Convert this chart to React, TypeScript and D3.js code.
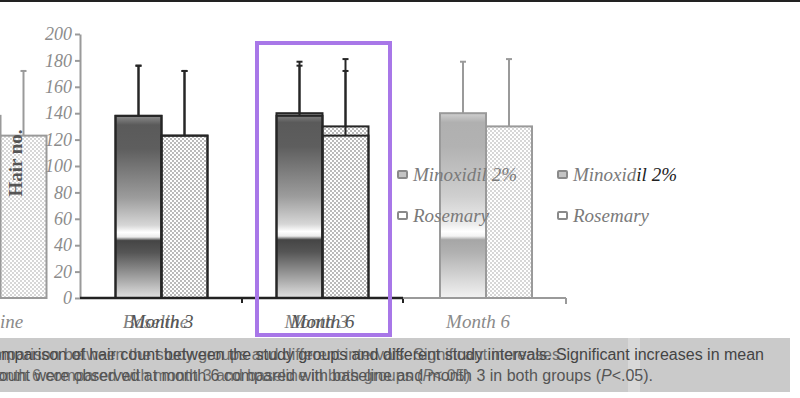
import React, { useEffect, useRef } from "react";
import * as d3 from "d3";

// values (bar height and top of the error bar)
const categories = ["Baseline", "Month 3", "Month 6"];
const minoxidil = [138, 138, 140];
const minoxidilUpper = [176, 176, 179];
const rosemary = [123, 123, 130];
const rosemaryUpper = [172, 172, 181];
const yTicks = [0, 20, 40, 60, 80, 100, 120, 140, 160, 180, 200];
const legendLabels = ["Minoxidil 2%", "Rosemary"];
const yTitle = "Hair no.";

const captionA = [
  "Comparison of hair count between the study groups and different study intervals. Significant increases in mean",
  "hair count were observed at month 6 compared with baseline and month 3 in both groups (P<.05).",
];
const captionB = [
  "Comparison between the study groups and different intervals. Significant increases",
  "at month 6 compared with month 3 and baseline in both groups (P<.05)",
];

const W = 800;
const H = 398;

const App = () => {
  const ref = useRef(null);

  useEffect(() => {
    const svg = d3.select(ref.current);
    svg.selectAll("*").remove();

    const y = d3.scaleLinear().domain([0, 200]).range([298, 34]);
    const x = d3.scaleBand().domain(categories).range([-80, 403]);
    const barW = 46;
    const center = (c) => x(c) + x.bandwidth() / 2;

    const tones = {
      dark: { stroke: "#262626", grad: "minoDark", dots: "dotsDark", label: "#555" },
      light: { stroke: "#9a9a9a", grad: "minoLight", dots: "dotsLight", label: "#8a8a8a" },
    };

    const defs = svg.append("defs");
    const grad = (id, stops) => {
      const g = defs
        .append("linearGradient")
        .attr("id", id)
        .attr("x1", 0)
        .attr("y1", 0)
        .attr("x2", 0)
        .attr("y2", 1);
      stops.forEach(([o, c]) => g.append("stop").attr("offset", o).attr("stop-color", c));
    };
    grad("minoDark", [
      [0, "#8c8c8c"], [0.05, "#5a5a5a"], [0.18, "#5e5e5e"], [0.45, "#9c9c9c"],
      [0.6, "#d6d6d6"], [0.64, "#ffffff"], [0.665, "#ececec"], [0.685, "#454545"],
      [0.75, "#555555"], [0.9, "#a8a8a8"], [1, "#e2e2e2"],
    ]);
    grad("minoLight", [
      [0, "#d0d0d0"], [0.05, "#b0b0b0"], [0.18, "#b2b2b2"], [0.45, "#cfcfcf"],
      [0.6, "#ececec"], [0.64, "#ffffff"], [0.665, "#f4f4f4"], [0.685, "#a6a6a6"],
      [0.75, "#b0b0b0"], [0.9, "#d8d8d8"], [1, "#f2f2f2"],
    ]);
    const dots = (id, c) => {
      const p = defs
        .append("pattern")
        .attr("id", id)
        .attr("width", 4)
        .attr("height", 4)
        .attr("patternUnits", "userSpaceOnUse");
      p.append("rect").attr("width", 4).attr("height", 4).attr("fill", "#fff");
      p.append("circle").attr("cx", 1).attr("cy", 1).attr("r", 0.9).attr("fill", c);
      p.append("circle").attr("cx", 3).attr("cy", 3).attr("r", 0.9).attr("fill", c);
    };
    dots("dotsDark", "#9a9a9a");
    dots("dotsLight", "#c4c4c4");
    defs
      .append("clipPath")
      .attr("id", "capClip")
      .append("rect")
      .attr("x", 0)
      .attr("y", 338)
      .attr("width", 628)
      .attr("height", 54);

    svg.append("rect").attr("width", W).attr("height", H).attr("fill", "#fff");
    svg.append("rect").attr("width", W).attr("height", 2).attr("fill", "#222");

    // the picture is several shifted copies of the same chart laid on each other
    const layers = [
      { tone: "light", shift: 0, show: ["Baseline"], labelShift: -10, ghost: false },
      { tone: "light", shift: 163.5, show: ["Month 6"], labelShift: -8, ghost: false },
      { tone: "dark", shift: 0, show: ["Month 3", "Month 6"], labelShift: 0, ghost: false },
      { tone: "dark", shift: 161, show: ["Baseline", "Month 3"], labelShift: -6, ghost: true },
    ];

    const errBar = (g, cx, v, up, t) => {
      g.append("line")
        .attr("x1", cx).attr("x2", cx)
        .attr("y1", y(v)).attr("y2", y(up))
        .attr("stroke", t.stroke).attr("stroke-width", 2);
      g.append("line")
        .attr("x1", cx - 3).attr("x2", cx + 3)
        .attr("y1", y(up)).attr("y2", y(up))
        .attr("stroke", t.stroke).attr("stroke-width", 2);
    };

    layers.forEach((L) => {
      const t = tones[L.tone];
      const g = svg.append("g");
      L.show.forEach((c) => {
        const i = categories.indexOf(c);
        const cx = center(c) + L.shift;
        g.append("rect")
          .attr("x", cx - barW)
          .attr("y", y(minoxidil[i]))
          .attr("width", barW)
          .attr("height", y(0) - y(minoxidil[i]))
          .attr("fill", L.ghost ? "none" : `url(#${t.grad})`)
          .attr("stroke", t.stroke)
          .attr("stroke-width", 2);
        g.append("rect")
          .attr("x", cx)
          .attr("y", y(rosemary[i]))
          .attr("width", barW)
          .attr("height", y(0) - y(rosemary[i]))
          .attr("fill", L.ghost ? "none" : `url(#${t.dots})`)
          .attr("stroke", t.stroke)
          .attr("stroke-width", 2);
        errBar(g, cx - barW / 2, minoxidil[i], minoxidilUpper[i], t);
        errBar(g, cx + barW / 2, rosemary[i], rosemaryUpper[i], t);
        g.append("text")
          .attr("x", cx + L.labelShift)
          .attr("y", 328)
          .attr("text-anchor", "middle")
          .attr("font-family", "Liberation Serif, serif")
          .attr("font-style", "italic")
          .attr("font-size", 19)
          .attr("fill", t.label)
          .attr("opacity", L.ghost ? 0.75 : 1)
          .text(c);
      });
    });

    // y axis
    const yAxis = svg
      .append("g")
      .attr("transform", "translate(80,0)")
      .call(d3.axisLeft(y).tickValues(yTicks).tickSize(5).tickSizeOuter(0).tickPadding(3));
    yAxis.select(".domain").attr("stroke", "#9a9a9a").attr("stroke-width", 2);
    yAxis.selectAll(".tick line").attr("stroke", "#9a9a9a").attr("stroke-width", 2);
    yAxis
      .selectAll(".tick text")
      .attr("font-family", "Liberation Serif, serif")
      .attr("font-style", "italic")
      .attr("font-size", 18)
      .attr("fill", "#8c8c8c");

    svg
      .append("text")
      .attr("transform", "translate(22,163) rotate(-90)")
      .attr("text-anchor", "middle")
      .attr("font-family", "Liberation Serif, serif")
      .attr("font-weight", "bold")
      .attr("font-size", 19)
      .attr("fill", "#555")
      .text(yTitle);

    // x axis lines: dark copy, then light copy further right
    const x0 = x("Month 3");
    const x1 = x.range()[1];
    svg.append("line")
      .attr("x1", x0 - 1).attr("x2", x1).attr("y1", y(0)).attr("y2", y(0))
      .attr("stroke", "#222").attr("stroke-width", 2.5);
    [x("Month 6"), x1].forEach((tx) =>
      svg.append("line")
        .attr("x1", tx).attr("x2", tx).attr("y1", y(0)).attr("y2", y(0) + 5)
        .attr("stroke", "#222").attr("stroke-width", 2)
    );
    const lx1 = x1 + 163;
    svg.append("line")
      .attr("x1", x1).attr("x2", lx1).attr("y1", y(0)).attr("y2", y(0))
      .attr("stroke", "#9a9a9a").attr("stroke-width", 2);
    svg.append("line")
      .attr("x1", lx1).attr("x2", lx1).attr("y1", y(0)).attr("y2", y(0) + 6)
      .attr("stroke", "#9a9a9a").attr("stroke-width", 2);

    // legends (two copies)
    [397, 557].forEach((lx, k) => {
      legendLabels.forEach((lab, j) => {
        const ly = 175 + j * 41;
        svg.append("rect")
          .attr("x", lx + 1).attr("y", ly - 4).attr("width", 9).attr("height", 7)
          .attr("rx", 1)
          .attr("fill", j === 0 ? "#c4c4c4" : "#fff")
          .attr("stroke", "#8a8a8a").attr("stroke-width", 2);
        const tx = svg.append("text")
          .attr("x", lx + 16).attr("y", ly + 6)
          .attr("font-family", "Liberation Serif, serif")
          .attr("font-style", "italic")
          .attr("font-size", 19)
          .attr("fill", "#7a7a7a");
        if (k === 1 && j === 0) {
          tx.append("tspan").text(lab.slice(0, 7));
          tx.append("tspan").attr("fill", "#222").text(lab.slice(7));
        } else {
          tx.text(lab);
        }
      });
    });

    // highlight box
    svg.append("rect")
      .attr("x", 257).attr("y", 43).attr("width", 133).attr("height", 292)
      .attr("fill", "none")
      .attr("stroke", "#a877e8")
      .attr("stroke-width", 4);

    // caption band
    svg.append("rect").attr("x", 0).attr("y", 338).attr("width", 790).attr("height", 54).attr("fill", "#cacaca");
    svg.append("rect").attr("x", 628).attr("y", 338).attr("width", 12).attr("height", 54).attr("fill", "#d8d8d8");

    const capLine = (g, s, xEnd, yy, color) => {
      const t = g.append("text")
        .attr("x", xEnd).attr("y", yy)
        .attr("text-anchor", "end")
        .attr("font-family", "Liberation Sans, Arial, sans-serif")
        .attr("font-size", 16)
        .attr("fill", color);
      const parts = s.split("P<");
      t.append("tspan").text(parts[0]);
      if (parts.length > 1) {
        t.append("tspan").attr("font-style", "italic").text("P");
        t.append("tspan").text("<" + parts[1]);
      }
    };
    const cA = svg.append("g");
    capLine(cA, captionA[0], 764, 360, "#444");
    capLine(cA, captionA[1], 653, 381, "#555");
    const cB = svg.append("g").attr("clip-path", "url(#capClip)").attr("opacity", 0.8);
    capLine(cB, captionB[0], 560, 360, "#555");
    capLine(cB, captionB[1], 470, 381, "#555");
  }, []);

  return (
    <svg
      ref={ref}
      width={W}
      height={H}
      style={{ position: "absolute", left: 0, top: 0, display: "block" }}
    ></svg>
  );
};

export default App;
